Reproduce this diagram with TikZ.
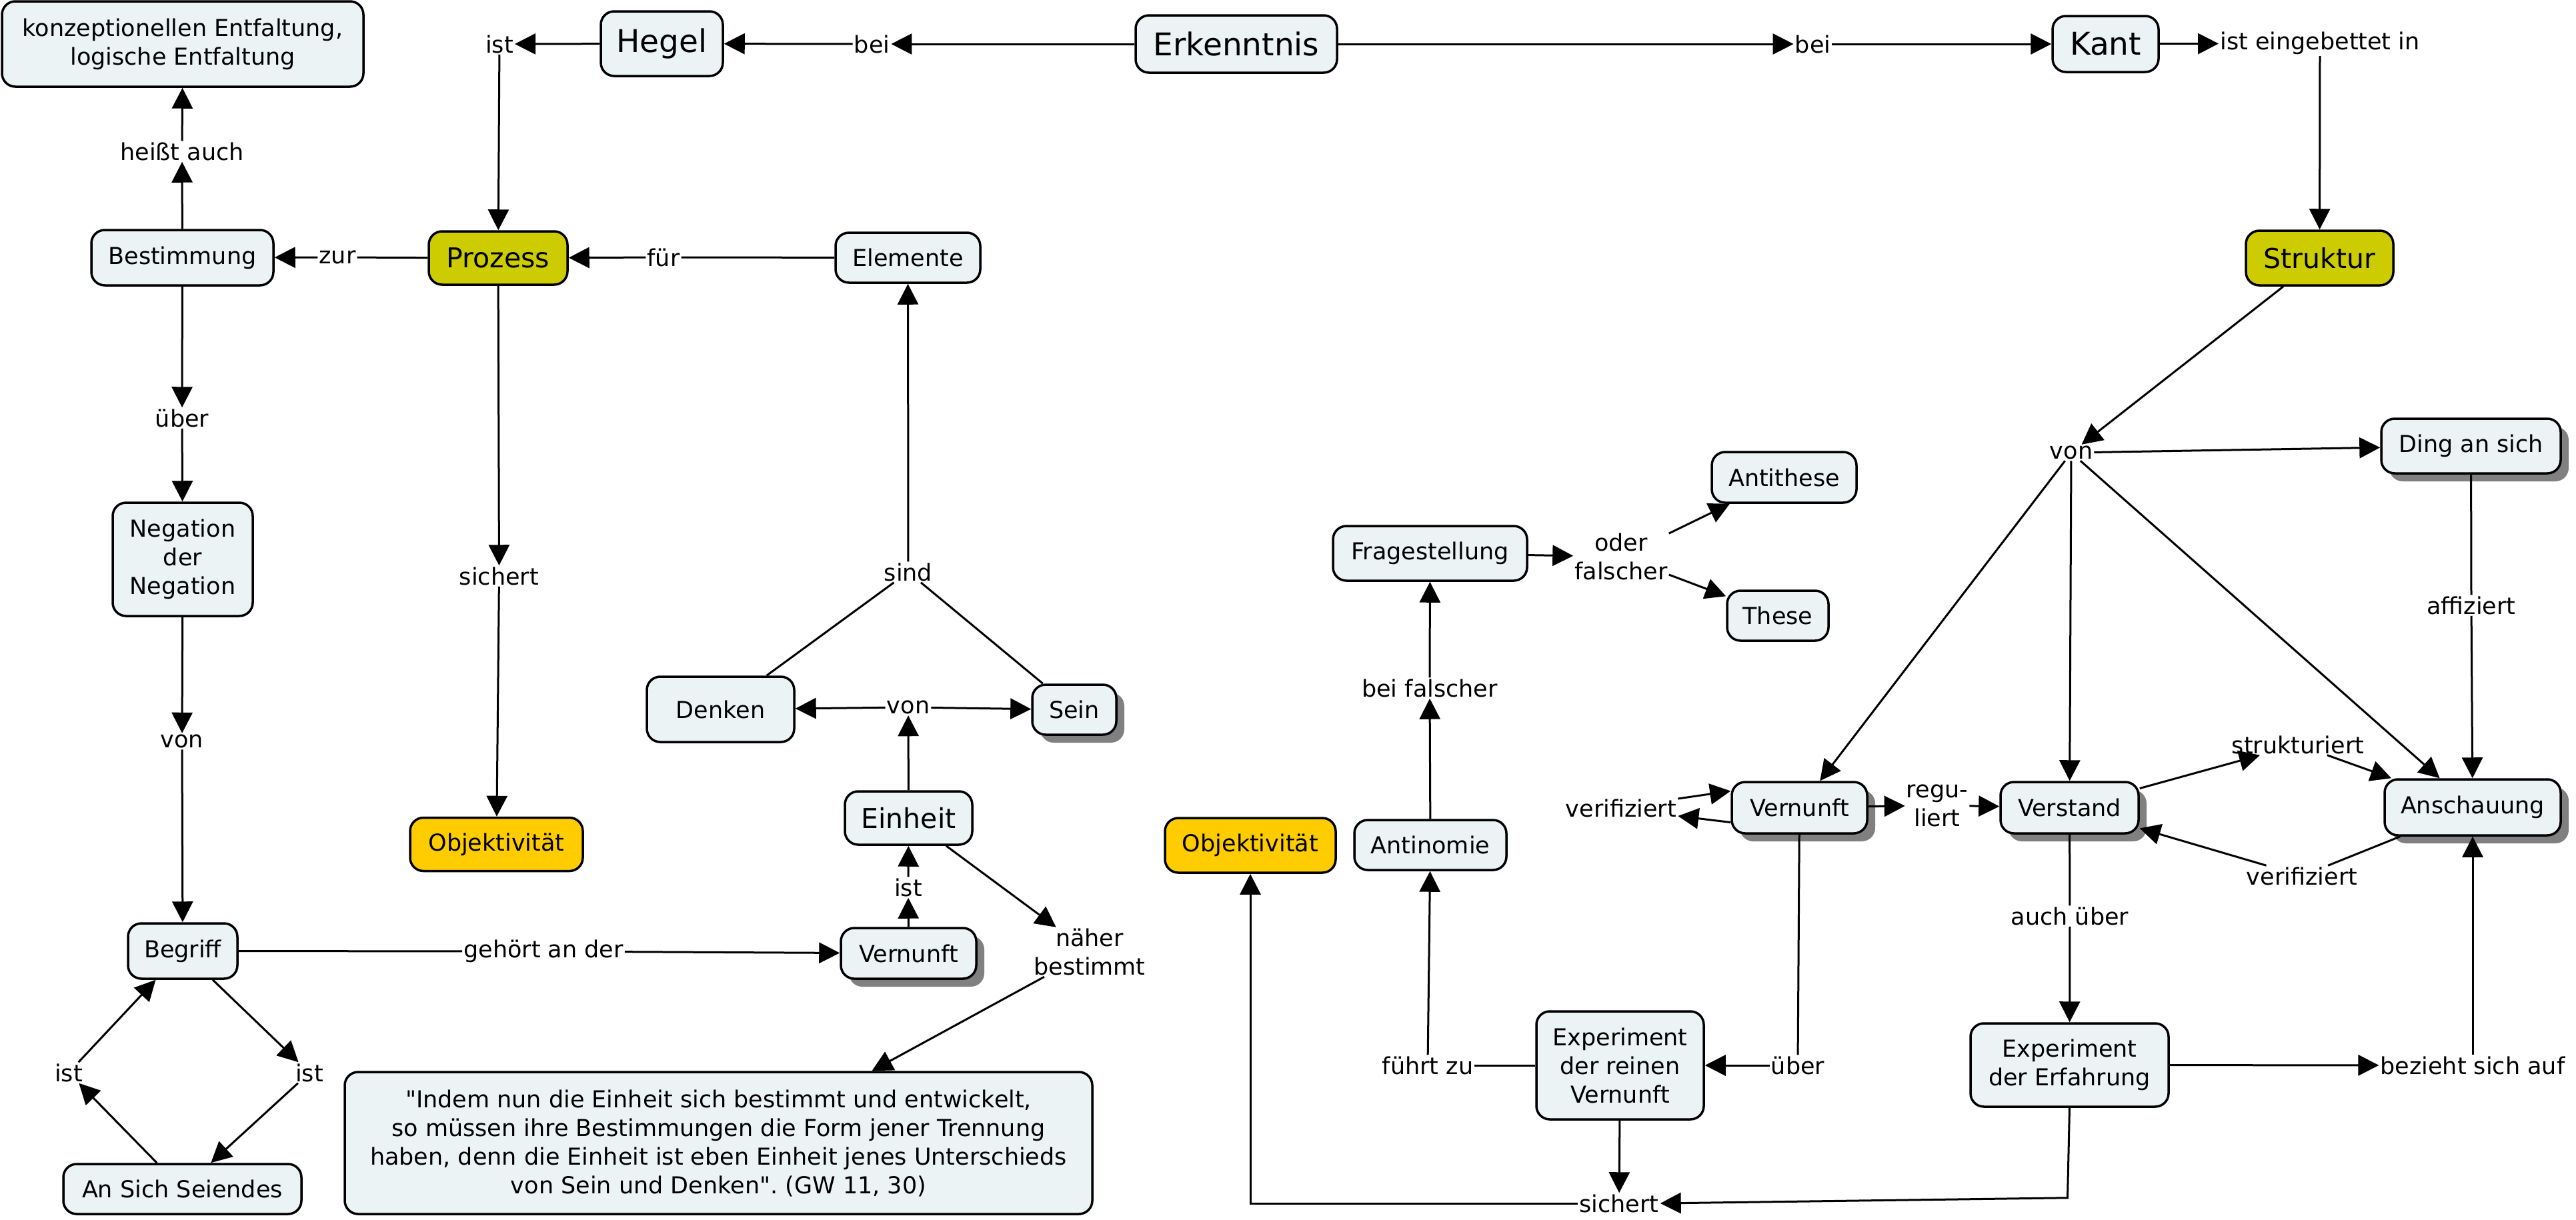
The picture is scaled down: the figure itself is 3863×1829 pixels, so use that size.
\documentclass[tikz,border=0pt]{standalone}
\usepackage{fontspec}
\setmainfont{DejaVu Sans}[Ligatures=TeXOff]
\usetikzlibrary{arrows.meta,shadows}
\frenchspacing
\definecolor{nodefill}{RGB}{236,243,245}
\definecolor{procfill}{RGB}{204,204,0}
\definecolor{objfill}{RGB}{255,204,0}
\definecolor{shadowgray}{RGB}{128,128,128}
\newcommand{\fsN}{\fontsize{35pt}{43pt}\selectfont}
\newcommand{\fsM}{\fontsize{41pt}{50pt}\selectfont}
\newcommand{\fsL}{\fontsize{47pt}{56pt}\selectfont}
\tikzset{
  cbox/.style={draw, line width=3.5pt, rounded corners=20pt, fill=nodefill, align=center, inner sep=2pt, font=\fsN},
  shad/.style={drop shadow={shadow xshift=12pt, shadow yshift=-12pt, fill=shadowgray, opacity=1}},
  lbl/.style={inner sep=2pt, font=\fsN, align=center},
  ln/.style={line width=3pt},
  arr/.style={line width=3pt, -{Triangle[length=31pt,width=31pt]}},
}
\begin{document}
\begin{tikzpicture}[x=1pt,y=-1pt]
\useasboundingbox (0,0) rectangle (3863,1829);
% concepts
\node[cbox, minimum width=542pt, minimum height=128pt] (konz) at (274,66) {konzeptionellen Entfaltung,\\logische Entfaltung};
\node[cbox, font=\fsL, minimum width=183pt, minimum height=97pt] (hegel) at (992.5,65.5) {Hegel};
\node[cbox, font=\fsL, minimum width=302pt, minimum height=86pt] (erk) at (1854,66) {Erkenntnis};
\node[cbox, font=\fsL, minimum width=159pt, minimum height=84pt] (kant) at (3157.5,66) {Kant};
\node[cbox, font=\fsM, fill=procfill, minimum width=221pt, minimum height=82pt] (struktur) at (3478.5,387) {Struktur};
\node[cbox, font=\fsM, fill=procfill, minimum width=208pt, minimum height=80pt] (prozess) at (747,387) {Prozess};
\node[cbox, minimum width=273pt, minimum height=83pt] (bestimmung) at (273.5,386.5) {Bestimmung};
\node[cbox, minimum width=217pt, minimum height=75pt] (elemente) at (1361.5,386.5) {Elemente};
\node[cbox, fill=objfill, minimum width=259pt, minimum height=80pt] (obj1) at (744.5,1266.5) {Objektivität};
\node[cbox, minimum width=210pt, minimum height=170pt] (negation) at (274,839) {Negation\\der\\Negation};
\node[cbox, minimum width=164pt, minimum height=83pt] (begriff) at (274,1426.5) {Begriff};
\node[cbox, minimum width=357pt, minimum height=75pt] (ansich) at (273.5,1783.5) {An Sich Seiendes};
\node[cbox, shad, minimum width=203pt, minimum height=76pt] (vern1) at (1362.5,1430) {Vernunft};
\node[cbox, minimum width=1121pt, minimum height=213pt] (quote) at (1077.5,1714.5) {"Indem nun die Einheit sich bestimmt und entwickelt,\\so müssen ihre Bestimmungen die Form jener Trennung\\haben, denn die Einheit ist eben Einheit jenes Unterschieds\\von Sein und Denken". (GW 11, 30)};
\node[cbox, font=\fsM, minimum width=191pt, minimum height=80pt] (einheit) at (1362.5,1227) {Einheit};
\node[cbox, minimum width=221pt, minimum height=98pt] (denken) at (1080.5,1064) {Denken};
\node[cbox, shad, minimum width=126pt, minimum height=75pt] (sein) at (1611,1064.5) {Sein};
\node[cbox, minimum width=291pt, minimum height=82pt] (frage) at (2144.5,830) {Fragestellung};
\node[cbox, minimum width=217pt, minimum height=76pt] (antithese) at (2675.5,716) {Antithese};
\node[cbox, minimum width=152pt, minimum height=75pt] (these) at (2666,923.5) {These};
\node[cbox, minimum width=228pt, minimum height=75pt] (antinomie) at (2145,1267.5) {Antinomie};
\node[cbox, fill=objfill, minimum width=256pt, minimum height=82pt] (obj2) at (1875,1268) {Objektivität};
\node[cbox, minimum width=251pt, minimum height=162pt] (exprv) at (2429.5,1598) {Experiment\\der reinen\\Vernunft};
\node[cbox, minimum width=297pt, minimum height=125pt] (experf) at (3103.5,1597.5) {Experiment\\der Erfahrung};
\node[cbox, shad, minimum width=203pt, minimum height=77pt] (vern2) at (2698.5,1211.5) {Vernunft};
\node[cbox, shad, minimum width=207pt, minimum height=77pt] (verstand) at (3103.5,1211.5) {Verstand};
\node[cbox, shad, minimum width=264pt, minimum height=84pt] (anschauung) at (3708,1211) {Anschauung};
\node[cbox, shad, minimum width=269pt, minimum height=82pt] (ding) at (3705.5,669) {Ding an sich};
% linking phrases
\node[lbl] (bei1) at (1307.5,66) {bei};
\node[lbl] (bei2) at (2718.5,66) {bei};
\node[lbl] (ist0) at (749,66) {ist};
\node[lbl] (eingeb) at (3479,65) {ist eingebettet in};
\node[lbl] (zur) at (506,386) {zur};
\node[lbl] (fuer) at (995,386) {für};
\node[lbl] (heisst) at (273,227) {heißt auch};
\node[lbl] (ueber1) at (273,627) {über};
\node[lbl] (von1) at (273,1112) {von};
\node[lbl] (sich1) at (748.5,864) {sichert};
\node[lbl] (gehoert) at (815,1427) {gehört an der};
\node[lbl] (ist1) at (1362,1331) {ist};
\node[lbl] (naeher) at (1634,1428) {näher\\bestimmt};
\node[lbl] (ist2) at (103,1609) {ist};
\node[lbl] (ist3) at (464,1609) {ist};
\node[lbl] (von2) at (1362,1061) {von};
\node[lbl] (sind) at (1362,858) {sind};
\node[lbl] (oder) at (2431,835) {oder\\falscher};
\node[lbl] (beifalsch) at (2144,1032) {bei falscher};
\node[lbl] (verif1) at (2431,1212) {verifiziert};
\node[lbl] (regu) at (2905,1208) {regu-\\liert};
\node[lbl] (struk) at (3446,1117) {strukturiert};
\node[lbl] (verif2) at (3452,1314) {verifiziert};
\node[lbl] (auchueber) at (3104,1374) {auch über};
\node[lbl] (fuehrt) at (2141,1598) {führt zu};
\node[lbl] (ueber2) at (2696,1598) {über};
\node[lbl] (sich2) at (2428,1805) {sichert};
\node[lbl] (bezieht) at (3708,1598) {bezieht sich auf};
\node[lbl] (affiziert) at (3706,908) {affiziert};
\node[lbl] (von3) at (3106,679) {von};
% connectors left
\draw[arr] (erk) -- (bei1);
\draw[arr] (bei1) -- (hegel);
\draw[arr] (erk) -- (bei2);
\draw[arr] (bei2) -- (kant);
\draw[arr] (kant) -- (eingeb);
\draw[arr] (eingeb) -- (struktur);
\draw[arr] (hegel) -- (ist0);
\draw[arr] (ist0) -- (prozess);
\draw[ln] (prozess) -- (zur);
\draw[arr] (zur) -- (bestimmung);
\draw[ln] (elemente) -- (fuer);
\draw[arr] (fuer) -- (prozess);
\draw[arr] (bestimmung) -- (heisst);
\draw[arr] (heisst) -- (konz);
\draw[arr] (bestimmung) -- (ueber1);
\draw[arr] (ueber1) -- (negation);
\draw[arr] (negation) -- (von1);
\draw[arr] (von1) -- (begriff);
\draw[arr] (prozess) -- (sich1);
\draw[arr] (sich1) -- (obj1);
\draw[ln] (begriff) -- (gehoert);
\draw[arr] (gehoert) -- (vern1);
\draw[arr] (begriff) -- (ist3);
\draw[arr] (ist3) -- (ansich);
\draw[arr] (ansich) -- (ist2);
\draw[arr] (ist2) -- (begriff);
\draw[arr] (vern1) -- (ist1);
\draw[arr] (ist1) -- (einheit);
\draw[arr] (einheit) -- (von2);
\draw[arr] (von2) -- (denken);
\draw[arr] (von2) -- (sein);
\draw[ln] (denken) -- (sind);
\draw[ln] (sein) -- (sind);
\draw[arr] (sind) -- (elemente);
\draw[arr] (einheit) -- (naeher);
\draw[arr] (naeher) -- ([xshift=230pt]quote.north);
% connectors right
\draw[arr] (frage) -- (oder);
\draw[arr] (oder) -- (antithese);
\draw[arr] (oder) -- (these);
\draw[arr] (antinomie) -- (beifalsch);
\draw[arr] (beifalsch) -- (frage);
\draw[ln] (exprv) -- (fuehrt);
\draw[arr] (fuehrt) -- (antinomie);
\draw[ln] (vern2) -- (ueber2);
\draw[arr] (ueber2) -- (exprv);
\draw[arr] (exprv) -- (sich2);
\draw[arr] (sich2.west) -| (obj2.south);
\draw[arr] (experf.south) -- ++(-3,135) -- (sich2.east);
\draw[ln] (verstand) -- (auchueber);
\draw[arr] (auchueber) -- (experf);
\draw[arr] (experf) -- (bezieht);
\draw[arr] (bezieht) -- (anschauung);
\draw[arr] (vern2) -- (regu);
\draw[arr] (regu) -- (verstand);
\draw[arr] (verstand) -- (struk);
\draw[arr] (struk) -- (anschauung);
\draw[ln] (anschauung) -- (verif2);
\draw[arr] (verif2) -- (verstand);
\draw[arr] ([yshift=14pt]verif1.east) -- ([yshift=25pt]vern2.west);
\draw[arr] ([yshift=-22pt]vern2.west) -- ([yshift=-12pt]verif1.east);
\draw[arr] (struktur) -- (von3);
\draw[arr] (von3) -- (ding);
\draw[arr] (von3) -- (vern2);
\draw[arr] (von3) -- (verstand);
\draw[arr] (von3) -- (anschauung);
\draw[ln] (ding) -- (affiziert);
\draw[arr] (affiziert) -- (anschauung);
\end{tikzpicture}
\end{document}
